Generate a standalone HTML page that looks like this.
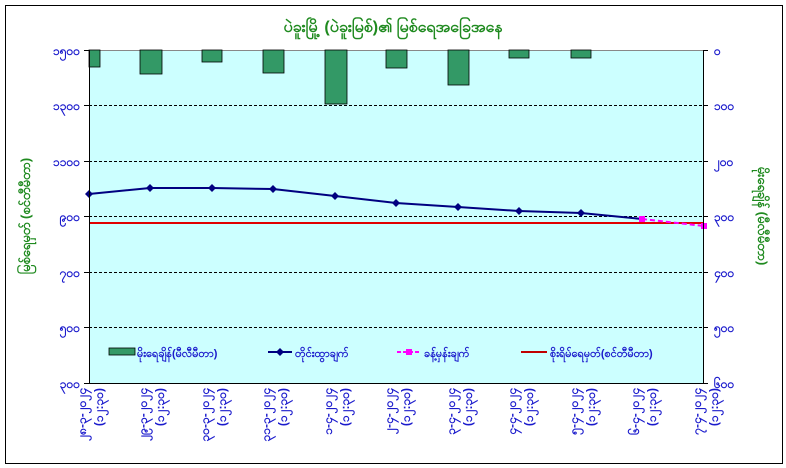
<!DOCTYPE html>
<html><head><meta charset="utf-8"><style>
html,body{margin:0;padding:0;background:#fff;}
svg{display:block;font-family:"Liberation Sans","DejaVu Sans",sans-serif;}
</style></head><body>
<svg width="786" height="468" viewBox="0 0 786 468" xmlns="http://www.w3.org/2000/svg">
<rect x="0" y="0" width="786" height="468" fill="#fff"/>
<rect x="5.5" y="5.5" width="777" height="458" fill="#fff" stroke="#000" stroke-width="1"/>
<text x="393" y="32" text-anchor="middle" font-size="16" font-weight="bold" fill="#1f8a1f">ပဲခူးမြို့ (ပဲခူးမြစ်)၏ မြစ်ရေအခြေအနေ</text>
<rect x="89" y="50" width="614" height="333" fill="#ccffff"/>
<g stroke="#000" stroke-dasharray="3,2" stroke-width="1">
<line x1="89" y1="105.5" x2="703" y2="105.5"/><line x1="89" y1="161.5" x2="703" y2="161.5"/>
<line x1="89" y1="216.5" x2="703" y2="216.5"/><line x1="89" y1="272.5" x2="703" y2="272.5"/>
<line x1="89" y1="327.5" x2="703" y2="327.5"/></g>
<line x1="89" y1="50.5" x2="703" y2="50.5" stroke="#888"/>
<g fill="#339966" stroke="#000" stroke-width="0.8">
<rect x="89" y="50" width="11" height="17"/><rect x="140" y="50" width="22" height="24"/>
<rect x="202" y="50" width="20" height="12"/><rect x="263" y="50" width="21" height="23"/>
<rect x="325" y="50" width="22" height="54"/><rect x="386" y="50" width="21" height="18"/>
<rect x="448" y="50" width="21" height="35"/><rect x="509" y="50" width="20" height="8"/>
<rect x="571" y="50" width="20" height="8"/></g>
<line x1="89" y1="223" x2="703" y2="223" stroke="#e00000" stroke-width="2"/>
<polyline points="89,194 150,188 212,188 273,189 335,196 396,203 458,207 519,211 581,213 642,219" fill="none" stroke="#000080" stroke-width="2"/>
<g fill="#000080"><path d="M89,190 l4,4 -4,4 -4,-4z"/><path d="M150,184 l4,4 -4,4 -4,-4z"/><path d="M212,184 l4,4 -4,4 -4,-4z"/><path d="M273,185 l4,4 -4,4 -4,-4z"/><path d="M335,192 l4,4 -4,4 -4,-4z"/><path d="M396,199 l4,4 -4,4 -4,-4z"/><path d="M458,203 l4,4 -4,4 -4,-4z"/><path d="M519,207 l4,4 -4,4 -4,-4z"/><path d="M581,209 l4,4 -4,4 -4,-4z"/></g>
<polyline points="642,219 704,226" fill="none" stroke="#ff00ff" stroke-width="2" stroke-dasharray="5,3"/>
<rect x="639" y="216" width="6" height="6" fill="#ff00ff"/><rect x="701" y="223" width="6" height="6" fill="#ff00ff"/>
<line x1="89.5" y1="50" x2="89.5" y2="383" stroke="#000"/>
<line x1="703.5" y1="50" x2="703.5" y2="383" stroke="#000"/>
<line x1="89" y1="383.5" x2="703" y2="383.5" stroke="#000"/>
<g stroke="#000"><line x1="84" y1="50.5" x2="89" y2="50.5"/><line x1="84" y1="105.5" x2="89" y2="105.5"/><line x1="84" y1="161.5" x2="89" y2="161.5"/><line x1="84" y1="216.5" x2="89" y2="216.5"/><line x1="84" y1="272.5" x2="89" y2="272.5"/><line x1="84" y1="327.5" x2="89" y2="327.5"/><line x1="84" y1="383.5" x2="89" y2="383.5"/>
<line x1="703" y1="50.5" x2="708" y2="50.5"/><line x1="703" y1="105.5" x2="708" y2="105.5"/><line x1="703" y1="161.5" x2="708" y2="161.5"/><line x1="703" y1="216.5" x2="708" y2="216.5"/><line x1="703" y1="272.5" x2="708" y2="272.5"/><line x1="703" y1="327.5" x2="708" y2="327.5"/><line x1="703" y1="383.5" x2="708" y2="383.5"/></g>
<g fill="#1a1acc" font-size="12" font-weight="bold" text-anchor="end">
<text x="80" y="55">၁၅၀၀</text><text x="80" y="110">၁၃၀၀</text><text x="80" y="166">၁၁၀၀</text><text x="80" y="221">၉၀၀</text><text x="80" y="277">၇၀၀</text><text x="80" y="332">၅၀၀</text><text x="80" y="388">၃၀၀</text></g>
<g fill="#1a1acc" font-size="12" font-weight="bold">
<text x="714" y="55">၀</text><text x="714" y="110">၁၀၀</text><text x="714" y="166">၂၀၀</text><text x="714" y="221">၃၀၀</text><text x="714" y="277">၄၀၀</text><text x="714" y="332">၅၀၀</text><text x="714" y="388">၆၀၀</text></g>
<text transform="translate(30,216) rotate(-90)" text-anchor="middle" font-size="13" font-weight="bold" fill="#1f8a1f">မြစ်ရေမှတ် (စင်တီမီတာ)</text>
<text transform="translate(758,216) rotate(90)" text-anchor="middle" font-size="13" font-weight="bold" fill="#1f8a1f">မိုးရေချိန် (မီလီမီတာ)</text>
<g font-size="11" font-weight="bold" fill="#1a1acc">
<rect x="109" y="348" width="26" height="7" fill="#339966" stroke="#000" stroke-width="0.8"/>
<text x="137" y="357">မိုးရေချိန်(မီလီမီတာ)</text>
<line x1="268" y1="352" x2="292" y2="352" stroke="#000080" stroke-width="2"/><path d="M280,348 l4,4 -4,4 -4,-4z" fill="#000080"/>
<text x="295" y="357">တိုင်းထွာချက်</text>
<line x1="397" y1="352" x2="421" y2="352" stroke="#ff00ff" stroke-width="2" stroke-dasharray="4,2"/><rect x="406" y="349" width="6" height="6" fill="#ff00ff"/>
<text x="424" y="357">ခန့်မှန်းချက်</text>
<line x1="521" y1="352" x2="547" y2="352" stroke="#c00000" stroke-width="2"/>
<text x="550" y="357">စိုးရိမ်ရေမှတ်(စင်တီမီတာ)</text></g>
<g font-size="12" font-weight="bold" fill="#1a1acc" text-anchor="end">
<g transform="translate(89,388) rotate(-90)"><text x="0" y="-3">၂၈-၃-၂၀၂၄</text><text x="0" y="14">(၁၂:၃၀)</text></g>
<g transform="translate(150,388) rotate(-90)"><text x="0" y="-3">၂၉-၃-၂၀၂၄</text><text x="0" y="14">(၁၂:၃၀)</text></g>
<g transform="translate(212,388) rotate(-90)"><text x="0" y="-3">၃၀-၃-၂၀၂၄</text><text x="0" y="14">(၁၂:၃၀)</text></g>
<g transform="translate(273,388) rotate(-90)"><text x="0" y="-3">၃၁-၃-၂၀၂၄</text><text x="0" y="14">(၁၂:၃၀)</text></g>
<g transform="translate(335,388) rotate(-90)"><text x="0" y="-3">၁-၄-၂၀၂၄</text><text x="0" y="14">(၁၂:၃၀)</text></g>
<g transform="translate(396,388) rotate(-90)"><text x="0" y="-3">၂-၄-၂၀၂၄</text><text x="0" y="14">(၁၂:၃၀)</text></g>
<g transform="translate(458,388) rotate(-90)"><text x="0" y="-3">၃-၄-၂၀၂၄</text><text x="0" y="14">(၁၂:၃၀)</text></g>
<g transform="translate(519,388) rotate(-90)"><text x="0" y="-3">၄-၄-၂၀၂၄</text><text x="0" y="14">(၁၂:၃၀)</text></g>
<g transform="translate(581,388) rotate(-90)"><text x="0" y="-3">၅-၄-၂၀၂၄</text><text x="0" y="14">(၁၂:၃၀)</text></g>
<g transform="translate(642,388) rotate(-90)"><text x="0" y="-3">၆-၄-၂၀၂၄</text><text x="0" y="14">(၁၂:၃၀)</text></g>
<g transform="translate(704,388) rotate(-90)"><text x="0" y="-3">၇-၄-၂၀၂၄</text><text x="0" y="14">(၁၂:၃၀)</text></g>
</g>
</svg>
</body></html>
